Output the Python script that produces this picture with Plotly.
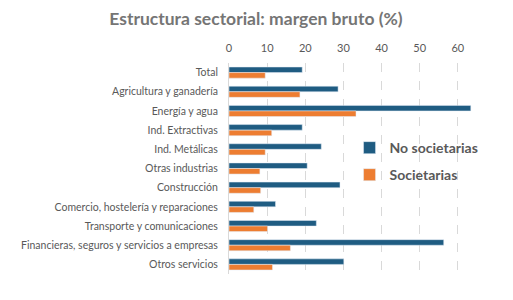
import plotly.graph_objects as go

# Sector categories (top to bottom)
sectores = [
    "Total",
    "Agricultura y ganadería",
    "Energía y agua",
    "Ind. Extractivas",
    "Ind. Metálicas",
    "Otras industrias",
    "Construcción",
    "Comercio, hostelería y reparaciones",
    "Transporte y comunicaciones",
    "Financieras, seguros y servicios a empresas",
    "Otros servicios",
]

# Gross margin (%)
no_societarias = [19.2, 28.6, 63.4, 19.2, 24.2, 20.5, 29.1, 12.2, 22.9, 56.3, 30.1]
societarias = [9.5, 18.6, 33.3, 11.2, 9.5, 8.1, 8.3, 6.5, 10.1, 16.1, 11.4]

x_ticks = [0, 10, 20, 30, 40, 50, 60]

fig = go.Figure()

fig.add_trace(go.Bar(y=sectores, x=no_societarias, orientation="h",
                     name="No societarias", marker_color="#1F5C82", legend="legend"))
fig.add_trace(go.Bar(y=sectores, x=societarias, orientation="h",
                     name="Societarias", marker_color="#ED7D31", legend="legend2"))

legend_style = dict(xanchor="left", yanchor="middle", bgcolor="rgba(0,0,0,0)",
                    font=dict(size=14, color="#595959", weight="bold"), itemwidth=30)

# page body has an 8px margin, so the figure is sized 8px smaller
fig.update_layout(
    width=505, height=292,
    margin=dict(l=221, r=38, t=55, b=26, autoexpand=False),
    paper_bgcolor="white", plot_bgcolor="white",
    barmode="group", bargap=0.42, bargroupgap=0,
    font=dict(family="Lato, Open Sans, sans-serif", color="#595959", size=11),
    title=dict(text="Estructura sectorial: margen bruto (%)",
               x=0.491, xanchor="center", y=0.962, yanchor="middle",
               font=dict(size=17.5, color="#757575", family="Lato, sans-serif", weight="bold")),
    legend=dict(x=0.49, y=0.597, **legend_style),
    legend2=dict(x=0.49, y=0.469, **legend_style),
    showlegend=True,
)

fig.update_xaxes(side="top", range=[0, 64.5], tickvals=x_ticks, automargin=False,
                 showgrid=True, gridcolor="#d9d9d9", griddash="dash",
                 zeroline=False, showline=False, ticks="",
                 ticklabelstandoff=8, tickfont=dict(size=11, color="#595959"))
fig.update_yaxes(autorange="reversed", showline=True, linecolor="#d9d9d9", automargin=False,
                 showgrid=False, ticks="", ticklabelstandoff=8,
                 tickfont=dict(size=10.5, color="#595959"))

fig.write_html("out.html")
